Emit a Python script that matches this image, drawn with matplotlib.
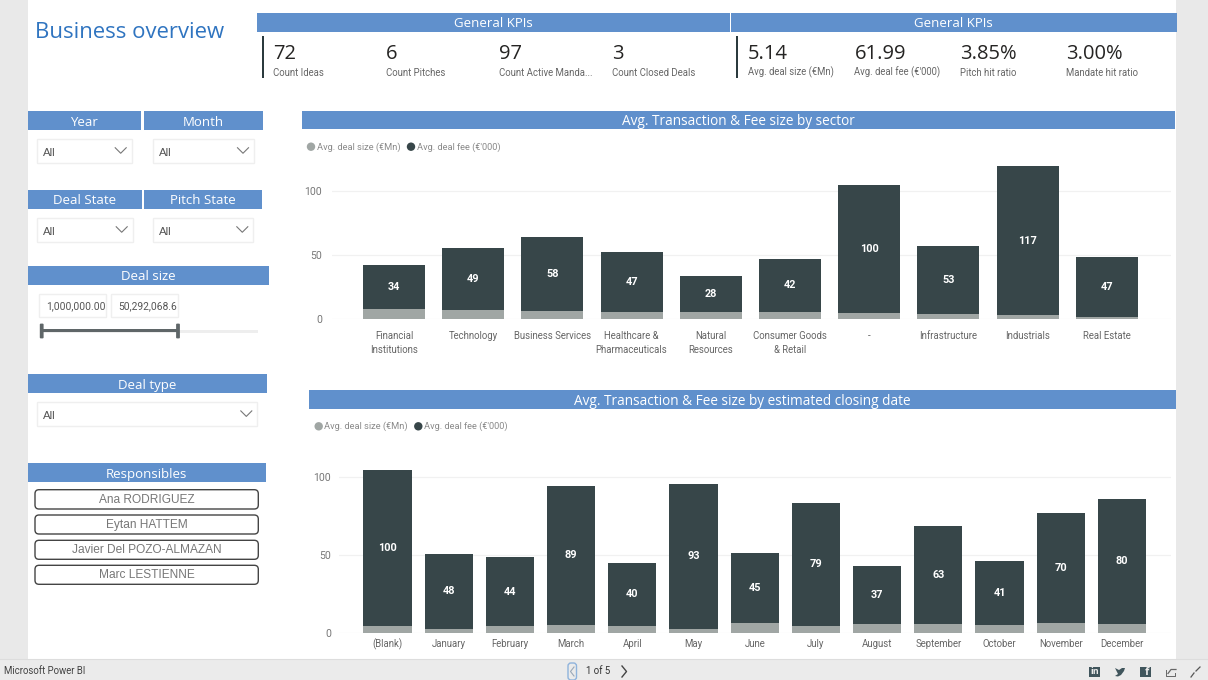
import matplotlib
matplotlib.use('Agg')
import matplotlib.pyplot as plt
from matplotlib.patches import Rectangle, FancyBboxPatch, Circle

W, H = 1208, 680

BLUE = '#6090cc'
DARK = '#374649'
GREY = '#a0a6a4'
SIDE = '#e9e9e9'
TXT = '#666666'
SMALL = ['Roboto', 'DejaVu Sans']

plt.rcParams['font.family'] = ['Open Sans', 'DejaVu Sans']

# Chart data
sectors = ['Financial\nInstitutions', 'Technology', 'Business Services', 'Healthcare &\nPharmaceuticals',
           'Natural\nResources', 'Consumer Goods\n& Retail', '-', 'Infrastructure', 'Industrials', 'Real Estate']
sector_size = [7.8, 6.5, 6.0, 5.2, 5.2, 5.2, 4.7, 3.7, 2.6, 1.6]
sector_fee = [34, 49, 58, 47, 28, 42, 100, 53, 117, 47]

months = ['(Blank)', 'January', 'February', 'March', 'April', 'May', 'June', 'July',
          'August', 'September', 'October', 'November', 'December']
month_size = [4.9, 3.0, 4.7, 5.6, 4.9, 2.8, 6.4, 4.7, 6.0, 5.8, 5.3, 6.8, 6.2]
month_fee = [100, 48, 44, 89, 40, 93, 45, 79, 37, 63, 41, 70, 80]

legend_names = ['Avg. deal size (€Mn)', "Avg. deal fee (€'000)"]

kpi_values_1 = ['72', '6', '97', '3']
kpi_labels_1 = ['Count Ideas', 'Count Pitches', 'Count Active Manda...', 'Count Closed Deals']
kpi_values_2 = ['5.14', '61.99', '3.85%', '3.00%']
kpi_labels_2 = ['Avg. deal size (€Mn)', "Avg. deal fee (€'000)", 'Pitch hit ratio', 'Mandate hit ratio']
responsibles = ['Ana RODRIGUEZ', 'Eytan HATTEM', 'Javier Del POZO-ALMAZAN', 'Marc LESTIENNE']

fig = plt.figure(figsize=(W / 100, H / 100), dpi=100, facecolor='white')

# Overlay in pixel coordinates for the report furniture
bg = fig.add_axes([0, 0, 1, 1])
bg.set_xlim(0, W)
bg.set_ylim(H, 0)
bg.axis('off')


def box(x0, y0, x1, y1, color, **kw):
    bg.add_patch(Rectangle((x0, y0), x1 - x0, y1 - y0, facecolor=color, edgecolor='none', **kw))


def header(x0, y0, x1, y1, text, size=9.5):
    box(x0, y0, x1, y1, BLUE)
    bg.text((x0 + x1) / 2, (y0 + y1) / 2 + 1.6, text, color='white', fontsize=size, ha='center', va='center')


def chevron(cx, cy, w=11, h=5.5, color='#777777', lw=0.8):
    bg.plot([cx - w / 2, cx, cx + w / 2], [cy - h / 2, cy + h / 2, cy - h / 2], color=color, lw=lw)


def dropdown(x0, y0, x1, y1):
    bg.add_patch(Rectangle((x0, y0), x1 - x0, y1 - y0, facecolor='white', edgecolor='#efefef', lw=1))
    bg.text(x0 + 5.5, (y0 + y1) / 2 + 2, 'All', color='#555555', fontsize=8.2, ha='left', va='center',
            family=['Liberation Sans'])
    chevron(x1 - 11, (y0 + y1) / 2 - 0.5)


# Page background
box(0, 0, 28, H, SIDE)
box(1176, 0, W, H, SIDE)
box(0, 658.5, W, H, '#ebebeb')
bg.plot([0, W], [658.5, 658.5], color='#dddddd', lw=0.8)

bg.text(35, 32, 'Business overview', color='#2f74c0', fontsize=15.95, ha='left', va='center')

# KPI cards
header(257, 13, 729.5, 31.7, 'General KPIs')
header(731, 13, 1176.5, 31.7, 'General KPIs')
box(261.7, 36, 263.7, 78, '#2b3a3e')
box(736.3, 36, 738.3, 78, '#2b3a3e')
for x, v, l in zip([273, 386, 499, 612.5], kpi_values_1, kpi_labels_1):
    bg.text(x, 54, v, color='#252423', fontsize=14.5, ha='left', va='center')
    bg.text(x, 72.5, l, color=TXT, fontsize=6.9, ha='left', va='center', family=SMALL)
for x, v, l in zip([747.7, 854.4, 960.3, 1066], kpi_values_2, kpi_labels_2):
    bg.text(x, 54, v, color='#252423', fontsize=14.5, ha='left', va='center')
    bg.text(x, 72.5, l, color=TXT, fontsize=6.85, ha='left', va='center', family=SMALL)

# Slicers
header(27.7, 111.3, 141, 130, 'Year')
header(144, 111.3, 263.3, 130, 'Month')
dropdown(37, 139.3, 131.7, 162.7)
dropdown(153.3, 139.3, 254, 162.7)
header(27.7, 190, 142, 208.7, 'Deal State')
header(144, 190, 262.3, 208.7, 'Pitch State')
dropdown(37, 218.3, 132.7, 241.7)
dropdown(153.3, 218.3, 253.3, 241.7)
header(27.7, 265.7, 269.3, 284.7, 'Deal size')
for x0, x1, t in [(39.3, 105.7, '1,000,000.00'), (111.3, 177.7, '50,292,068.6')]:
    bg.add_patch(Rectangle((x0, 294), x1 - x0, 22.7, facecolor='white', edgecolor='#efefef', lw=1))
    bg.text(x0 + 6.8, 306, t, color='#555555', fontsize=7.4, ha='left', va='center', family=SMALL)
box(41.7, 329.5, 257.7, 332.5, '#eeeeee')
box(41.7, 329.3, 178, 332.3, '#5f6668')
for x in [41.7, 178]:
    bg.add_patch(FancyBboxPatch((x - 1.5, 324), 3, 14, boxstyle='round,pad=0.4,rounding_size=1',
                                facecolor='#5f6668', edgecolor='none'))
header(27.7, 374.3, 266.7, 393.3, 'Deal type')
dropdown(37, 402.3, 257.3, 426)
header(27.7, 463.3, 265.7, 482.3, 'Responsibles')
for (y0, y1), name in zip([(489.7, 509), (515, 534), (540.3, 559.3), (565.3, 584.3)], responsibles):
    bg.add_patch(FancyBboxPatch((35, y0), 223.3, y1 - y0, boxstyle='round,pad=0,rounding_size=4',
                                facecolor='white', edgecolor='#444444', lw=1))
    bg.text(146.7, (y0 + y1) / 2 + 0.6, name, color='#777777', fontsize=8.6, ha='center', va='center',
            family=['Liberation Sans'])

# Chart titles and legends
header(301.7, 110.7, 1175, 129.3, 'Avg. Transaction & Fee size by sector', size=9.8)
header(309.3, 390.3, 1175.7, 409, 'Avg. Transaction & Fee size by estimated closing date', size=9.8)
for y, xs in [(146.7, (311, 411)), (426.3, (318.7, 418.3))]:
    for x, c, name in zip(xs, [GREY, DARK], legend_names):
        bg.add_patch(Circle((x, y), 4.2, facecolor=c, edgecolor='none'))
        bg.text(x + 5.8, y + 0.3, name, color='#8a8a8a', fontsize=6.7, ha='left', va='center', family=SMALL)

# Footer
bg.text(4, 671, 'Microsoft Power BI', color='#444444', fontsize=6.9, ha='left', va='center', family=SMALL)
bg.add_patch(FancyBboxPatch((568, 663), 8.5, 17, boxstyle='round,pad=0,rounding_size=3',
                            facecolor='none', edgecolor='#8fb3dc', lw=1))
bg.plot([574, 570.5, 574], [667, 671.5, 676], color='#9aa8b8', lw=0.8)
bg.text(598, 671, '1 of 5', color='#333333', fontsize=6.9, ha='center', va='center', family=SMALL)
bg.plot([622, 626.5, 622], [666, 671.5, 677], color='#444444', lw=1)
box(1089, 667, 1099.5, 677, '#40555c')
bg.text(1094.3, 672, 'in', color='#ebebeb', fontsize=6.5, fontweight='bold', ha='center', va='center')
bg.fill([1115, 1119, 1122, 1125, 1124, 1121, 1118, 1115, 1118],
        [668, 670, 668, 668, 671, 675, 676.5, 676, 674], color='#40555c', lw=0)
box(1140, 667, 1150.5, 677, '#40555c')
bg.text(1146.5, 672.7, 'f', color='#ebebeb', fontsize=8, fontweight='bold', ha='center', va='center')
bg.plot([1165.5, 1165.5, 1174.5, 1174.5], [670, 675.5, 675.5, 672.5], color='#666666', lw=0.7)
bg.plot([1168, 1171, 1176], [673.5, 669.5, 669.5], color='#666666', lw=0.9)
bg.plot([1191, 1194], [677, 673], color='#555555', lw=0.9)
bg.plot([1196, 1200], [671, 667], color='#555555', lw=0.9)


def stacked_chart(left, right, base_y, px_per_unit, ymax, first_x, step, bar_px, labels, size, fee, label_pad, x_pad):
    # axes box in pixels, so bars come from the real axis scales
    height = ymax * px_per_unit
    ax = fig.add_axes([left / W, (H - base_y) / H, (right - left) / W, height / H])
    ax.patch.set_alpha(0)
    xs = list(range(len(labels)))
    bw = bar_px / step
    ax.bar(xs, size, width=bw, color=GREY, zorder=2)
    fee_bars = ax.bar(xs, fee, width=bw, bottom=size, color=DARK, zorder=2)
    ax.bar_label(fee_bars, labels=[str(v) for v in fee], label_type='center', color='white',
                 fontsize=7.8, fontweight='bold', family=['Roboto'])
    ax.set_xlim((left - first_x) / step, (right - first_x) / step)
    ax.set_ylim(0, ymax)
    ax.set_yticks([0, 50, 100])
    ax.set_xticks(xs)
    ax.set_xticklabels(labels, linespacing=1.5, family=SMALL)
    ax.set_yticklabels(['0', '50', '100'], family=SMALL)
    ax.tick_params(axis='y', length=0, pad=label_pad, labelsize=7.6, labelcolor='#777777')
    ax.tick_params(axis='x', length=0, pad=x_pad, labelsize=6.9, labelcolor=TXT)
    ax.grid(axis='y', color='#f1f1f1', lw=0.9, zorder=0)
    for s in ax.spines.values():
        s.set_visible(False)
    return ax


stacked_chart(331.7, 1170.7, 318.7, 1.274, 125, 394, 79.2, 62, sectors, sector_size, sector_fee, 7, 9)
stacked_chart(339.3, 1170.7, 633.3, 1.56, 110, 387.5, 61.2, 48.3, months, month_size, month_fee, 6, 3.8)

fig.savefig('out.png', dpi=100, facecolor='white')
